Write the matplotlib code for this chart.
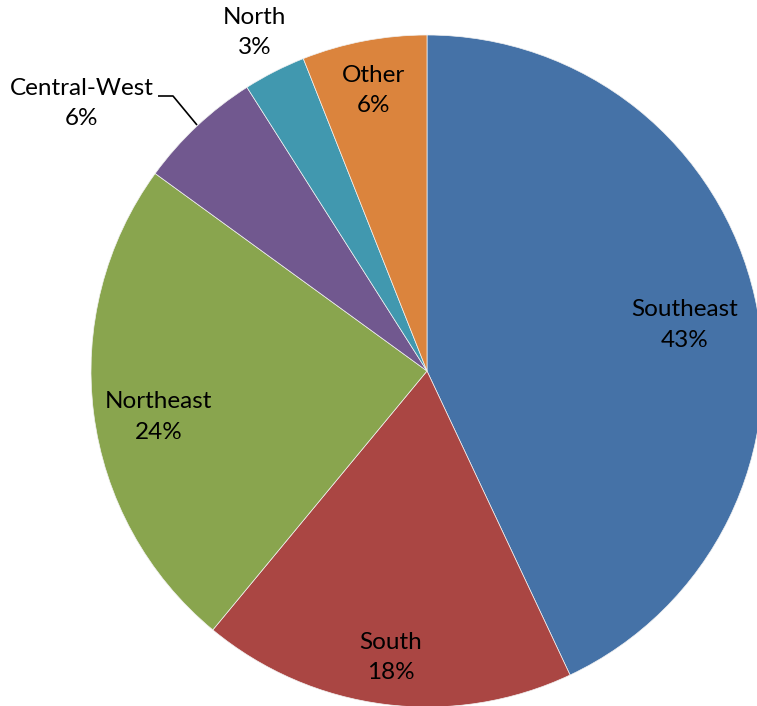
"""Pie chart of share by region."""

import numpy as np
import matplotlib
matplotlib.use("Agg")
import matplotlib.pyplot as plt

regions = ["Southeast", "South", "Northeast", "Central-West", "North", "Other"]
shares = [43, 18, 24, 6, 3, 6]
colors = ["#4572A7", "#AA4643", "#89A54E", "#71588F", "#4198AF", "#DB843D"]

# label placement: radius as fraction of pie radius, angle tweak in degrees
label_radius = [0.78, 0.86, 0.81, 1.30, 1.13, 0.85]
label_angle_shift = [-2.5, 0.0, 2.5, 9.0, 0.0, 0.0]

W, H = 757, 706
fig = plt.figure(figsize=(W / 100, H / 100), dpi=100)
ax = fig.add_axes([0, 0, 1, 1])

cx, cy, R = 427, H - 371, 336

wedges, _ = ax.pie(shares, colors=colors, startangle=90, counterclock=False,
                   center=(cx, cy), radius=R, frame=True,
                   wedgeprops=dict(edgecolor="#f2f2f2", linewidth=0.5))
ax.set_xlim(0, W)
ax.set_ylim(0, H)
ax.set_aspect("equal")
ax.axis("off")

total = sum(shares)
for i, (name, val) in enumerate(zip(regions, shares)):
    w = wedges[i]
    mid = 0.5 * (w.theta1 + w.theta2) + label_angle_shift[i]
    r = label_radius[i] * R
    x = cx + r * np.cos(np.radians(mid))
    y = cy + r * np.sin(np.radians(mid))
    ax.text(x, y, f"{name}\n{round(100 * val / total)}%", ha="center", va="center",
            fontsize=17.5, family="Lato", linespacing=1.55, color="black")

# leader line for Central-West
ax.plot([158, 173, 197], [H - 96, H - 96, H - 125], color="black", lw=1.2,
        solid_capstyle="butt")

plt.savefig("out.png", dpi=100)
